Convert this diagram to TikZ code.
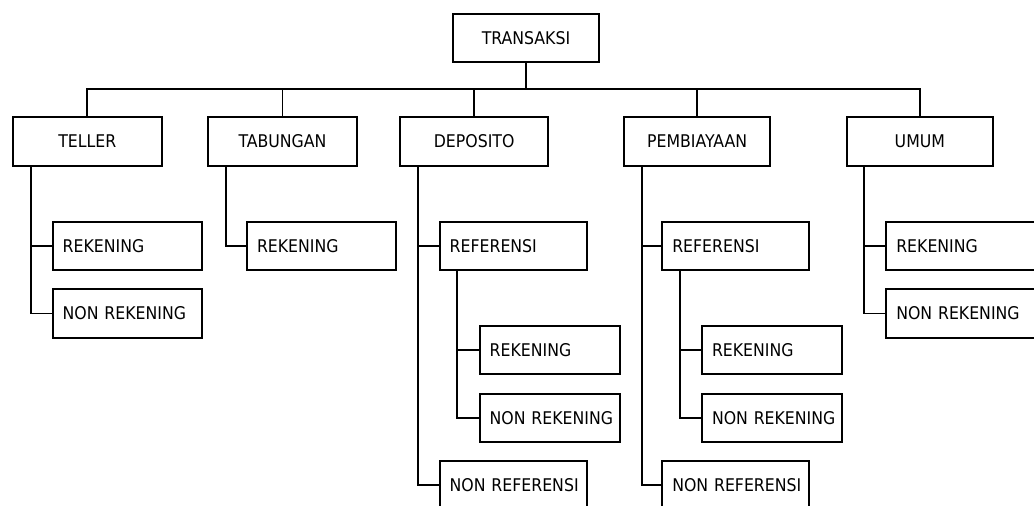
\documentclass[tikz,border=0pt]{standalone}
\usepackage{fontspec}
\setmainfont{DejaVu Sans Condensed}
\begin{document}
\begin{tikzpicture}[x=1pt,y=-1pt,
  every node/.style={font=\fontsize{17.5}{20}\selectfont},
  box/.style={draw, line width=1.9pt, outer sep=0pt, inner sep=0pt, minimum height=48.4pt, align=center},
  leftbox/.style={draw, line width=1.9pt, outer sep=0pt, inner xsep=10pt, inner ysep=0pt, minimum height=48.4pt, text width=#1-20pt, align=left},
  conn/.style={line width=1.9pt}]
\useasboundingbox (0,0) rectangle (1034,506);
\fill[white] (0,0) rectangle (1034,506);
% root
\node[box, minimum width=146.6pt] (trans) at (526,38) {TRANSAKSI};
% level 1
\node[box, minimum width=149.3pt] (teller) at (87.35,141.5) {TELLER};
\node[box, minimum width=149pt] (tabungan) at (282.5,141.5) {TABUNGAN};
\node[box, minimum width=148.3pt] (deposito) at (474.15,141.5) {DEPOSITO};
\node[box, minimum width=145.7pt] (pemb) at (697.15,141.5) {PEMBIAYAAN};
\node[box, minimum width=145.7pt] (umum) at (919.85,141.5) {UMUM};
% level 2
\node[leftbox=149pt] (trek) at (127.2,245.8) {\mbox{REKENING}};
\node[leftbox=149pt] (tnon) at (127.2,313.5) {\mbox{NON REKENING}};
\node[leftbox=149.3pt] (tabrek) at (321.65,245.8) {\mbox{REKENING}};
\node[leftbox=147pt] (dref) at (513.2,245.8) {\mbox{REFERENSI}};
\node[leftbox=147pt] (dnref) at (513.2,485.2) {\mbox{NON REFERENSI}};
\node[leftbox=146.4pt] (pref) at (735.5,245.8) {\mbox{REFERENSI}};
\node[leftbox=146.4pt] (pnref) at (735.5,485.2) {\mbox{NON REFERENSI}};
\node[leftbox=149pt] (urek) at (960.8,245.8) {\mbox{REKENING}};
\node[leftbox=149pt] (unon) at (960.8,313.5) {\mbox{NON REKENING}};
% level 3
\node[leftbox=140.3pt] (drek) at (549.85,350) {\mbox{REKENING}};
\node[leftbox=140.3pt] (dnon) at (549.85,417.8) {\mbox{NON REKENING}};
\node[leftbox=140pt] (prek) at (772,350) {\mbox{REKENING}};
\node[leftbox=140pt] (pnon) at (772,417.8) {\mbox{NON REKENING}};
% bus
\coordinate (bus) at (0,89.3);
\draw[conn] (trans.south) -- (trans.south |- bus);
\draw[conn] (teller.north) -- (teller.north |- bus) -- (umum.north |- bus) -- (umum.north);
\draw[conn] (tabungan.north) -- (tabungan.north |- bus);
\draw[conn] (deposito.north) -- (deposito.north |- bus);
\draw[conn] (pemb.north) -- (pemb.north |- bus);
% children connectors
\draw[conn] ([xshift=18pt]teller.south west) |- (tnon.west);
\draw[conn] ([xshift=18pt]teller.south west |- trek.west) -- (trek.west);
\draw[conn] ([xshift=18pt]tabungan.south west) |- (tabrek.west);
\draw[conn] ([xshift=18pt]deposito.south west) |- (dnref.west);
\draw[conn] ([xshift=18pt]deposito.south west |- dref.west) -- (dref.west);
\draw[conn] ([xshift=17.6pt]dref.south west) |- (dnon.west);
\draw[conn] ([xshift=17.6pt]dref.south west |- drek.west) -- (drek.west);
\draw[conn] ([xshift=18pt]pemb.south west) |- (pnref.west);
\draw[conn] ([xshift=18pt]pemb.south west |- pref.west) -- (pref.west);
\draw[conn] ([xshift=17.7pt]pref.south west) |- (pnon.west);
\draw[conn] ([xshift=17.7pt]pref.south west |- prek.west) -- (prek.west);
\draw[conn] ([xshift=17.3pt]umum.south west) |- (unon.west);
\draw[conn] ([xshift=17.3pt]umum.south west |- urek.west) -- (urek.west);
\end{tikzpicture}
\end{document}
